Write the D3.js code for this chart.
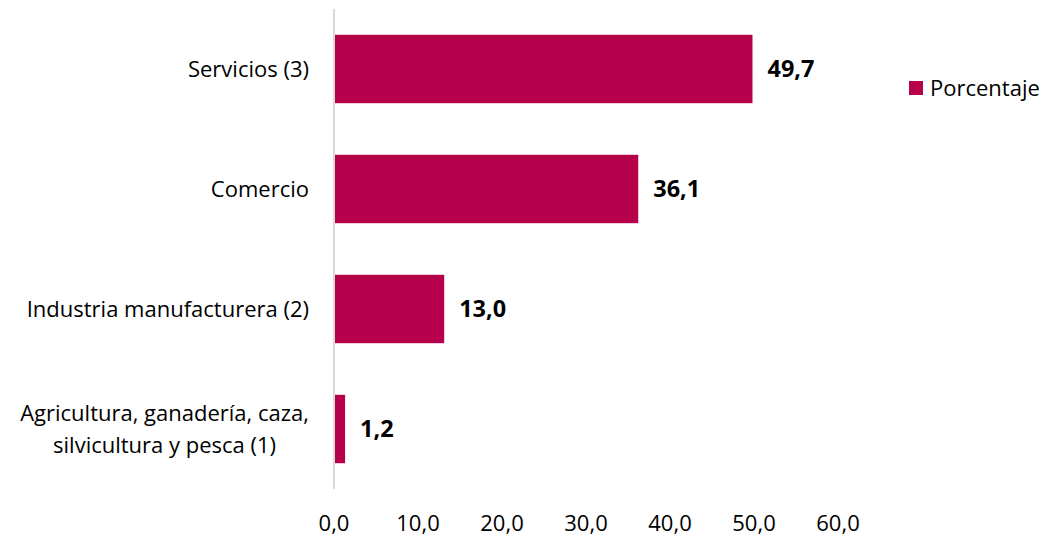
<!DOCTYPE html>
<html>
<head>
<meta charset="utf-8">
<script src="https://cdn.jsdelivr.net/npm/d3@7"></script>
<style>
  body { margin: 0; background: #fff; }
  text { font-family: "Open Sans", "Noto Sans", sans-serif; }
</style>
</head>
<body>
<svg id="chart" width="1045" height="536"></svg>
<script>
const categories = [
  ['Servicios (3)'],
  ['Comercio'],
  ['Industria manufacturera (2)'],
  ['Agricultura, ganadería, caza,', 'silvicultura y pesca (1)']
];
const values = [49.7, 36.1, 13.0, 1.2];
const tickValues = [0, 10, 20, 30, 40, 50, 60];
const seriesName = 'Porcentaje';

const color = '#B7004B';
const svg = d3.select('#chart');
const fmt = v => v.toFixed(1).replace('.', ',');

const x = d3.scaleLinear().domain([0, 60]).range([334, 838]);
const y = d3.scaleBand()
  .domain(d3.range(categories.length))
  .range([9, 489])
  .paddingInner(0.43)
  .paddingOuter(0.215);

// axis line
svg.append('line')
  .attr('x1', x(0)).attr('x2', x(0))
  .attr('y1', 9).attr('y2', 489)
  .attr('stroke', '#d9d9d9')
  .attr('stroke-width', 2);

svg.append('g')
  .selectAll('rect')
  .data(values)
  .join('rect')
  .attr('x', x(0) + 1)
  .attr('y', (d, i) => y(i))
  .attr('width', d => x(d) - x(0))
  .attr('height', y.bandwidth())
  .attr('fill', color);

svg.append('g')
  .selectAll('text')
  .data(values)
  .join('text')
  .attr('x', d => x(d) + 16)
  .attr('y', (d, i) => y(i) + y.bandwidth() / 2)
  .attr('dy', '0.35em')
  .attr('font-size', 23.5)
  .attr('font-weight', 'bold')
  .attr('fill', '#000')
  .text(d => fmt(d));

// category labels, multi-line centred as a block, right aligned
const catG = svg.append('g');
categories.forEach((lines, i) => {
  const t = catG.append('text')
    .attr('font-size', 22)
    .attr('fill', '#000');
  lines.forEach(l => t.append('tspan').text(l));
  const tspans = t.selectAll('tspan').nodes();
  const maxW = d3.max(tspans, n => n.getComputedTextLength());
  const cx = 309 - maxW / 2;
  const lh = 32;
  const cy = y(i) + y.bandwidth() / 2 - (lines.length - 1) * lh / 2;
  tspans.forEach((n, j) => {
    d3.select(n)
      .attr('x', lines.length > 1 ? cx : 309)
      .attr('text-anchor', lines.length > 1 ? 'middle' : 'end')
      .attr('y', cy + j * lh)
      .attr('dy', '0.35em');
  });
});

// x tick labels
svg.append('g')
  .selectAll('text')
  .data(tickValues)
  .join('text')
  .attr('x', d => x(d))
  .attr('y', 523)
  .attr('dy', '0.35em')
  .attr('text-anchor', 'middle')
  .attr('font-size', 22)
  .attr('fill', '#000')
  .text(d => fmt(d));

// legend
const lg = svg.append('g').attr('transform', 'translate(909,81)');
lg.append('rect').attr('width', 14).attr('height', 14).attr('fill', color);
lg.append('text')
  .attr('x', 21).attr('y', 7).attr('dy', '0.35em')
  .attr('font-size', 22).attr('fill', '#000')
  .text(seriesName);
</script>
</body>
</html>
